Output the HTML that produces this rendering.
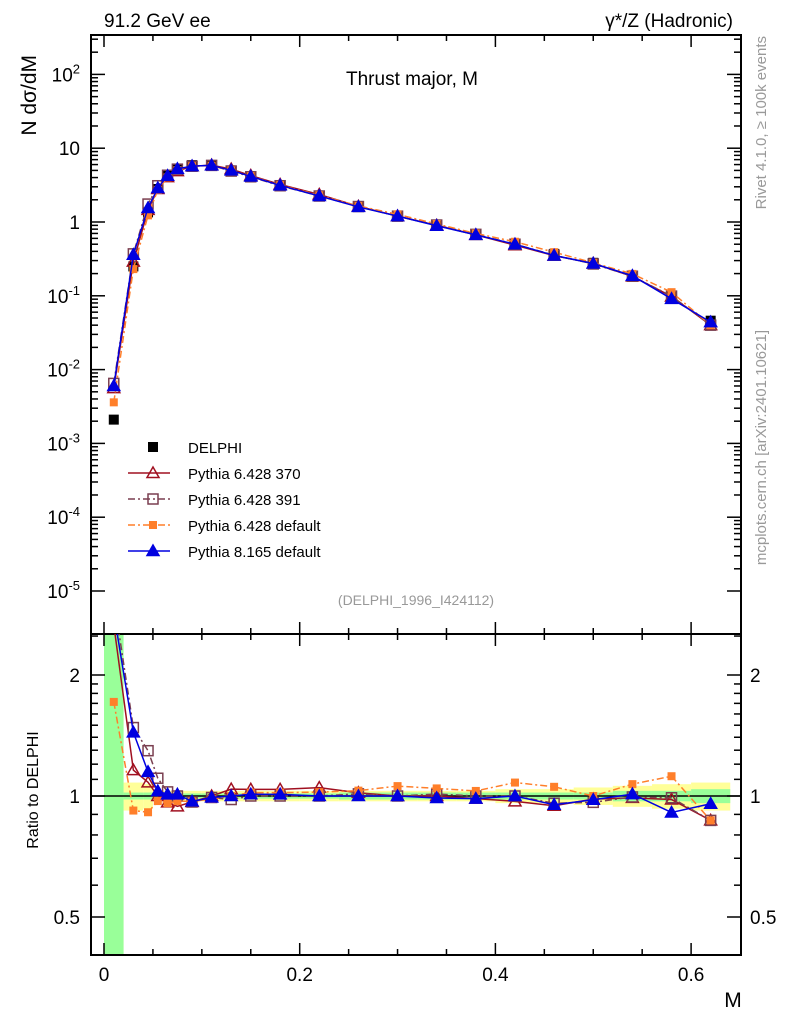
<!DOCTYPE html>
<html><head><meta charset="utf-8"><style>
html,body{margin:0;padding:0;background:#fff;overflow:hidden;width:786px;height:1024px;}
svg{display:block;font-family:"Liberation Sans",sans-serif;}
</style></head><body>
<svg id="c" width="786" height="1024" viewBox="0 0 786 1024"></svg>
<script>
const centers=[0.01,0.03,0.045,0.055,0.065,0.075,0.09,0.11,0.13,0.15,0.18,0.22,0.26,0.30,0.34,0.38,0.42,0.46,0.50,0.54,0.58,0.62];
const edges=[0,0.02,0.04,0.05,0.06,0.07,0.08,0.10,0.12,0.14,0.16,0.20,0.24,0.28,0.32,0.36,0.40,0.44,0.48,0.52,0.56,0.60,0.64];
const delphi=[0.0021,0.25,1.35,2.8,4.2,5.2,5.9,5.9,5.0,4.1,3.1,2.25,1.6,1.2,0.9,0.68,0.5,0.37,0.28,0.185,0.1,0.046];
const bandYellow=[0.65,0.08,0.07,0.03,0.03,0.03,0.03,0.03,0.03,0.03,0.03,0.03,0.03,0.03,0.03,0.03,0.04,0.04,0.05,0.06,0.07,0.08];
const bandGreen=[0.65,0.02,0.02,0.015,0.015,0.015,0.015,0.015,0.015,0.015,0.015,0.015,0.02,0.02,0.02,0.02,0.02,0.02,0.02,0.03,0.03,0.04];
const p370=[0.0056,0.29,1.46,2.8,4.05,4.9,5.7,5.9,5.2,4.26,3.22,2.36,1.63,1.2,0.9,0.67,0.485,0.35,0.275,0.183,0.098,0.04];
const p391=[0.0065,0.37,1.75,3.1,4.3,5.2,5.7,5.85,4.9,4.1,3.1,2.25,1.62,1.2,0.91,0.68,0.5,0.355,0.27,0.184,0.099,0.04];
const pdef=[0.0036,0.23,1.23,2.72,4.03,5.05,5.72,5.8,5.0,4.18,3.16,2.3,1.65,1.27,0.94,0.7,0.54,0.39,0.28,0.198,0.112,0.04];
const p8=[0.006,0.36,1.55,2.88,4.24,5.25,5.72,5.85,5.0,4.14,3.13,2.25,1.6,1.2,0.89,0.67,0.5,0.352,0.274,0.187,0.091,0.044];
const xTicks=[0,0.2,0.4,0.6];
const yDecades=[-5,-4,-3,-2,-1,0,1,2];
const rTicks=[0.5,1,2];

const L=91,R=741,T=35,MB=634,RB=955;
const X=v=>104+v*978.5;
const Y=v=>222-73.8*Math.log10(v);
const YR=v=>796-121*Math.log2(v);
const svg=document.getElementById('c');
const NS='http://www.w3.org/2000/svg';
function mk(tag,attrs,parent){const e=document.createElementNS(NS,tag);for(const k in attrs)e.setAttribute(k,attrs[k]);(parent||svg).appendChild(e);return e;}
function txt(s,x,y,size,anchor,parent,fill){const t=mk('text',{x:x,y:y,'font-size':size,'text-anchor':anchor||'start',fill:fill||'#000'},parent);t.textContent=s;return t;}

const defs=mk('defs',{});
const c1=mk('clipPath',{id:'cm'},defs);mk('rect',{x:L,y:T,width:R-L,height:MB-T},c1);
const c2=mk('clipPath',{id:'cr'},defs);mk('rect',{x:L,y:MB,width:R-L,height:RB-MB},c2);

const gb=mk('g',{'clip-path':'url(#cr)'});


for(let i=0;i<centers.length;i++){
  const x0=X(edges[i]),x1=X(edges[i+1]);
  const ry=mk('rect',{x:x0,y:YR(1+bandYellow[i]),width:x1-x0,height:YR(Math.max(0.05,1-bandYellow[i]))-YR(1+bandYellow[i]),fill:'#ffff99'},gb);
  
  
}
for(let i=0;i<centers.length;i++){
  const x0=X(edges[i]),x1=X(edges[i+1]);
  const top=i===0?10:1+bandGreen[i];
  const bot=i===0?0.05:1-bandGreen[i];
  const rg=mk('rect',{x:x0,y:YR(top),width:x1-x0,height:YR(bot)-YR(top),fill:'#99ff99'},gb);
  
  
}
mk('line',{x1:L,x2:R,y1:YR(1),y2:YR(1),stroke:'#000','stroke-width':1.5},gb);

mk('rect',{x:L,y:T,width:R-L,height:MB-T,fill:'none',stroke:'#000','stroke-width':2,});
mk('rect',{x:L,y:MB,width:R-L,height:RB-MB,fill:'none',stroke:'#000','stroke-width':2,});

for(let v=0;v<=0.64;v+=0.05){
  const x=X(v);const maj=Math.abs(v/0.2-Math.round(v/0.2))<1e-6;const len=maj?12:6;
  for(const [top,bot] of [[T,MB],[MB,RB]]){
    mk('line',{x1:x,x2:x,y1:bot,y2:bot-len,stroke:'#000','stroke-width':1.5});
    mk('line',{x1:x,x2:x,y1:top,y2:top+len,stroke:'#000','stroke-width':1.5});
  }
}
xTicks.forEach(v=>{const t=txt(v===0?'0':v.toFixed(1),X(v),981,19,'middle');});
const xl=txt('M',733,1007,21,'middle');

yDecades.forEach(d=>{
  for(let m=1;m<10;m++){
    const y=Y(m*Math.pow(10,d));if(y<T||y>MB)continue;
    const len=m===1?14:7;
    mk('line',{x1:L,x2:L+len,y1:y,y2:y,stroke:'#000','stroke-width':1.5});
    mk('line',{x1:R,x2:R-len,y1:y,y2:y,stroke:'#000','stroke-width':1.5});
  }
  let t;
  if(d===0)t=txt('1',80,Y(1)+7,19,'end');
  else if(d===1)t=txt('10',80,Y(10)+7,19,'end');
  else{t=mk('text',{x:80,y:Y(Math.pow(10,d))+7,'font-size':19,'text-anchor':'end'});
    const a=mk('tspan',{},t);a.textContent='10';const b=mk('tspan',{dy:-8,'font-size':13},t);b.textContent=String(d);}
  
});
[0.4,0.5,0.6,0.7,0.8,0.9,1,1.1,1.2,1.3,1.4,1.5,1.6,1.7,1.8,1.9,2,2.5].forEach(v=>{
  const y=YR(v);if(y<MB||y>RB)return;const maj=rTicks.includes(v);const len=maj?14:7;
  mk('line',{x1:L,x2:L+len,y1:y,y2:y,stroke:'#000','stroke-width':1.5});
  mk('line',{x1:R,x2:R-len,y1:y,y2:y,stroke:'#000','stroke-width':1.5});
});
rTicks.forEach(v=>{
  const a=txt(String(v),80,YR(v)+7,19,'end');
  const b=txt(String(v),750,YR(v)+7,19,'start');
});

const series=[
 {name:'pythia-6428-370',vals:p370,color:'#a01020',dash:'',marker:'otri'},
 {name:'pythia-6428-391',vals:p391,color:'#7a3f50',dash:'7,3,2,3',marker:'osq'},
 {name:'pythia-6428-default',vals:pdef,color:'#ff7f2a',dash:'7,3,2,3',marker:'fsq'},
 {name:'pythia-8165-default',vals:p8,color:'#0000e0',dash:'',marker:'ftri'}
];
function marker(type,x,y,color,parent){
  if(type==='otri'||type==='ftri'){
    return mk('polygon',{points:`${x},${y-6} ${x-6},${y+4.5} ${x+6},${y+4.5}`,fill:type==='ftri'?color:'none',stroke:color,'stroke-width':1.5},parent);
  }
  if(type==='osq')return mk('rect',{x:x-5,y:y-5,width:10,height:10,fill:'none',stroke:color,'stroke-width':1.5},parent);
  return mk('rect',{x:x-4,y:y-4,width:8,height:8,fill:color},parent);
}
const gm=mk('g',{'clip-path':'url(#cm)'});
const gr=mk('g',{'clip-path':'url(#cr)'});
delphi.forEach((v,i)=>{const r=mk('rect',{x:X(centers[i])-5,y:Y(v)-5,width:10,height:10,fill:'#000'},gm);
  });
series.forEach(s=>{
  const g1=mk('g',{},gm);
  const g2=mk('g',{},gr);
  mk('polyline',{points:s.vals.map((v,i)=>X(centers[i])+','+Y(v)).join(' '),fill:'none',stroke:s.color,'stroke-width':1.5,'stroke-dasharray':s.dash},g1);
  mk('polyline',{points:s.vals.map((v,i)=>X(centers[i])+','+YR(v/delphi[i])).join(' '),fill:'none',stroke:s.color,'stroke-width':1.5,'stroke-dasharray':s.dash},g2);
  s.vals.forEach((v,i)=>{const m=marker(s.marker,X(centers[i]),Y(v),s.color,g1);
    const m2=marker(s.marker,X(centers[i]),YR(v/delphi[i]),s.color,g2);});
});

const lg=mk('g',{});
const ly=[447,473,499,525,551];
const le0=mk('g',{},lg);
mk('rect',{x:148,y:ly[0]-5,width:10,height:10,fill:'#000'},le0);txt('DELPHI',188,ly[0]+6,15,'start',le0);
const labels=['Pythia 6.428 370','Pythia 6.428 391','Pythia 6.428 default','Pythia 8.165 default'];
series.forEach((s,k)=>{const g=mk('g',{},lg);
  const y=ly[k+1];mk('line',{x1:128,x2:170,y1:y,y2:y,stroke:s.color,'stroke-width':1.5,'stroke-dasharray':s.dash},g);
  marker(s.marker,153,y,s.color,g);txt(labels[k],188,y+6,15,'start',g);});

let t;
t=txt('91.2 GeV ee',104,27,19);
t=txt('γ*/Z (Hadronic)',733,27,19,'end');
t=txt('Thrust major, M',412,85,19,'middle');
t=txt('(DELPHI_1996_I424112)',416,605,14,'middle',svg,'#999');
t=txt('N  dσ/dM',0,0,21,'end');t.setAttribute('transform','translate(36,55) rotate(-90)');
t=txt('Ratio to DELPHI',0,0,16,'middle');t.setAttribute('transform','translate(38,790) rotate(-90)');
t=txt('Rivet 4.1.0, ≥ 100k events',0,0,15,'end',svg,'#999');t.setAttribute('transform','translate(766,36) rotate(-90)');
t=txt('mcplots.cern.ch [arXiv:2401.10621]',0,0,15,'end',svg,'#999');t.setAttribute('transform','translate(766,330) rotate(-90)');
</script>
</body></html>
